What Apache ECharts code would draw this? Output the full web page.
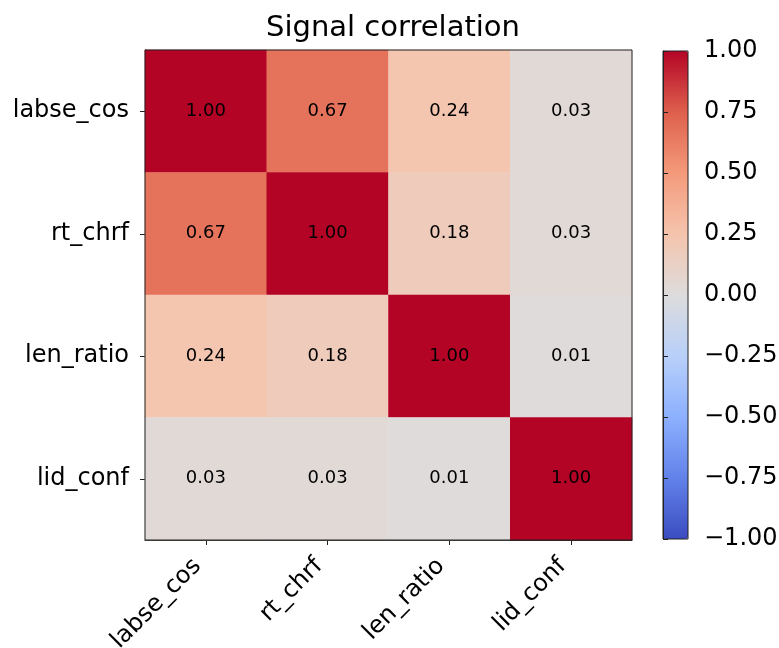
<!DOCTYPE html>
<html>
<head>
<meta charset="utf-8">
<script src="https://cdn.jsdelivr.net/npm/echarts@6/dist/echarts.min.js"></script>
<style>
  html, body { margin: 0; padding: 0; background: #fff; }
  #chart { width: 779px; height: 648px; }
</style>
</head>
<body>
<div id="chart"></div>
<script>
// signal names, same order on both axes
const signals = ['labse_cos', 'rt_chrf', 'len_ratio', 'lid_conf'];

// correlation rows (row i = signals[i])
const row_labse = [1.00, 0.67, 0.24, 0.03];
const row_rtchrf = [0.67, 1.00, 0.18, 0.03];
const row_lenratio = [0.24, 0.18, 1.00, 0.01];
const row_lid = [0.03, 0.03, 0.01, 1.00];
const rows = [row_labse, row_rtchrf, row_lenratio, row_lid];

// colorbar ticks
const cbarMin = -1;
const cbarMax = 1;
const cbarStep = 0.25;

// matplotlib coolwarm
const coolwarm = ['#3b4cc0', '#6282ea', '#8db0fe', '#b8d0f9', '#dddcdc',
  '#f5c4ad', '#f49a7b', '#de604d', '#b40426'];

const cells = [];
rows.forEach((r, yi) => {
  r.forEach((v, xi) => {
    cells.push([xi, yi, v]);
  });
});

const font = 'DejaVu Sans';
const chart = echarts.init(document.getElementById('chart'));

const option = {
  backgroundColor: '#fff',
  animation: false,
  title: {
    text: 'Signal correlation',
    left: 388,
    textAlign: 'center',
    top: 9,
    textStyle: { fontFamily: font, fontSize: 29, fontWeight: 'normal', color: '#000' },
  },
  grid: [
    {
      left: 145, top: 50, width: 487, height: 490,
      outerBoundsMode: 'none', containLabel: false,
      show: true, borderColor: '#222', borderWidth: 1, backgroundColor: 'transparent', z: 10,
    },
    {
      left: 663, top: 51, width: 25, height: 488,
      outerBoundsMode: 'none', containLabel: false,
      show: true, borderColor: '#222', borderWidth: 1, backgroundColor: 'transparent', z: 10,
    },
  ],
  xAxis: [
    {
      type: 'category',
      gridIndex: 0,
      data: signals,
      axisLine: { show: true, lineStyle: { color: '#222' } },
      axisTick: { show: true, alignWithLabel: true, length: 5, lineStyle: { color: '#222' } },
      axisLabel: {
        rotate: 45, fontFamily: font, fontSize: 24, color: '#000',
        margin: 14, interval: 0, padding: [0, 12, 0, 0],
      },
      splitLine: { show: false },
    },
    {
      type: 'value',
      gridIndex: 1,
      show: false,
    },
  ],
  yAxis: [
    {
      type: 'category',
      gridIndex: 0,
      data: signals,
      inverse: true,
      axisLine: { show: true, lineStyle: { color: '#222' } },
      axisTick: { show: true, alignWithLabel: true, length: 5, lineStyle: { color: '#222' } },
      axisLabel: { fontFamily: font, fontSize: 24, color: '#000', margin: 16 },
      splitLine: { show: false },
    },
    {
      type: 'value',
      gridIndex: 1,
      position: 'right',
      min: cbarMin,
      max: cbarMax,
      interval: cbarStep,
      z: 10,
      axisLine: { show: true, lineStyle: { color: '#222' } },
      axisTick: { show: true, inside: false, length: 5, lineStyle: { color: '#222' } },
      axisLabel: {
        fontFamily: font, fontSize: 24, color: '#000', margin: 16,
        formatter: (v) => (v < 0 ? '\u2212' : '') + Math.abs(v).toFixed(2),
      },
      splitLine: { show: false },
    },
  ],
  visualMap: {
    type: 'continuous',
    min: cbarMin,
    max: cbarMax,
    seriesIndex: 0,
    calculable: false,
    show: true,
    orient: 'vertical',
    left: 663,
    top: 51,
    padding: 0,
    itemWidth: 25,
    itemHeight: 488,
    text: null,
    showLabel: false,
    inRange: { color: coolwarm },
  },
  series: [
    {
      type: 'heatmap',
      xAxisIndex: 0,
      yAxisIndex: 0,
      data: cells,
      label: {
        show: true,
        fontFamily: font,
        fontSize: 18,
        color: '#000',
        formatter: (p) => p.value[2].toFixed(2),
      },
      itemStyle: { borderWidth: 0 },
      emphasis: { disabled: true },
    },
  ],
};

chart.setOption(option);
</script>
</body>
</html>
